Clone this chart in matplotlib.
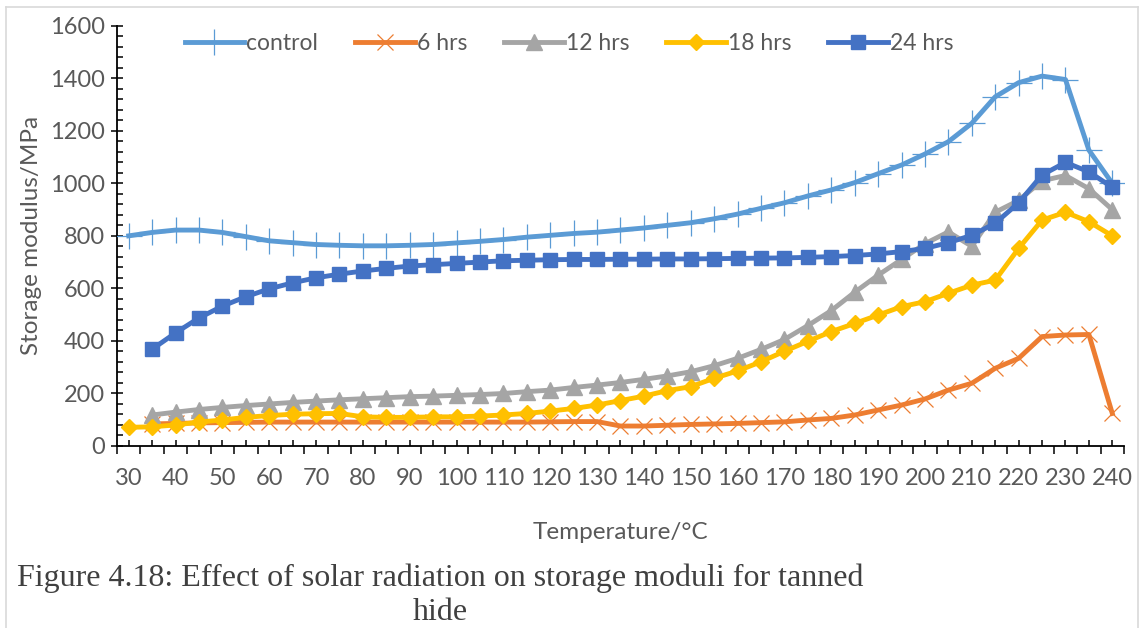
import numpy as np
import matplotlib.pyplot as plt
from matplotlib.ticker import MultipleLocator, FixedLocator
from matplotlib.lines import Line2D

# Temperature categories (°C)
temps = [30, 35, 40, 45, 50, 55, 60, 65, 70, 75, 80, 85, 90, 95, 100, 105, 110,
         115, 120, 125, 130, 135, 140, 145, 150, 155, 160, 165, 170, 175, 180,
         185, 190, 195, 200, 205, 210, 215, 220, 225, 230, 235, 240]

# Storage modulus (MPa)
control = [800, 813, 822, 822, 813, 797, 781, 774, 767, 764, 762, 762, 764, 767,
           773, 779, 786, 795, 802, 809, 814, 822, 830, 840, 850, 865, 883, 905,
           926, 952, 975, 1003, 1037, 1070, 1112, 1159, 1229, 1330, 1384, 1409,
           1396, 1127, 1000]
hrs6 = [83, 85, 87, 88, 89, 90, 90, 90, 90, 90, 90, 90, 90, 90, 90, 90, 90, 91,
        92, 92, 75, 75, 78, 81, 83, 85, 88, 91, 98, 104, 117, 136, 155, 178, 212,
        238, 295, 333, 416, 422, 424, 123]
hrs12 = [117, 128, 138, 146, 153, 159, 165, 170, 175, 179, 183, 187, 189, 192,
         195, 199, 206, 212, 222, 231, 241, 253, 266, 282, 305, 333, 367, 405,
         458, 515, 585, 650, 710, 770, 815, 760, 890, 935, 1010, 1030, 980, 900]
hrs18 = [70, 72, 79, 90, 98, 108, 115, 120, 122, 123, 110, 108, 108, 110, 110,
         113, 117, 123, 132, 142, 155, 172, 189, 210, 225, 257, 285, 320, 360,
         398, 435, 466, 498, 530, 549, 581, 612, 631, 752, 860, 890, 854, 800]
hrs24 = [368, 430, 487, 532, 568, 598, 621, 640, 654, 666, 676, 685, 690, 695,
         700, 705, 707, 709, 710, 710, 711, 711, 712, 712, 713, 714, 715, 716,
         718, 721, 725, 731, 740, 752, 774, 802, 848, 926, 1032, 1080, 1044, 985]

plt.rcParams['font.family'] = ['Lato', 'DejaVu Sans']
grey_txt = '#595959'

W, H = 1147, 628
fig = plt.figure(figsize=(W / 100, H / 100), dpi=100)
ax = fig.add_axes([117 / W, 1 - 445.7 / H, (1124 - 117) / W, (445.7 - 26) / H])

ax.plot(temps, control, color='#5B9BD5', lw=3.5, marker='+', ms=19, mew=0.9,
        label='control', zorder=3)
ax.plot(temps[1:], hrs6, color='#ED7D31', lw=3.5, marker='x', ms=12, mew=0.9,
        label='6 hrs', zorder=4)
ax.plot(temps[1:], hrs12, color='#A5A5A5', lw=3.5, marker='^', ms=11,
        label='12 hrs', zorder=5)
ax.plot(temps, hrs18, color='#FFC000', lw=3.5, marker='D', ms=8,
        label='18 hrs', zorder=6)
ax.plot(temps[1:], hrs24, color='#4472C4', lw=3.5, marker='s', ms=10,
        label='24 hrs', zorder=7)

ax.set_xlim(27.5, 242.5)
ax.set_ylim(0, 1600)

for s in ['top', 'right']:
    ax.spines[s].set_visible(False)
for s in ['left', 'bottom']:
    ax.spines[s].set_linewidth(1.3)
    ax.spines[s].set_color('black')

# y axis ticks
ax.yaxis.set_major_locator(MultipleLocator(200))
ax.yaxis.set_minor_locator(MultipleLocator(40))
ax.tick_params(axis='y', which='major', direction='inout', length=9, width=1.1,
               pad=4, labelsize=17, labelcolor=grey_txt)
ax.tick_params(axis='y', which='minor', direction='in', length=4.5, width=1.1)

# x axis ticks: inside at each point, outside between points
ax.xaxis.set_major_locator(FixedLocator(temps))
ax.set_xticklabels([str(t) if t % 10 == 0 else '' for t in temps])
ax.xaxis.set_minor_locator(MultipleLocator(5, offset=2.5))
ax.tick_params(axis='x', which='major', direction='in', length=4, width=1.1,
               pad=16, labelsize=17, labelcolor=grey_txt)
ax.tick_params(axis='x', which='minor', direction='out', length=5.5, width=1.1)

ax.set_xlabel('Temperature/°C', fontsize=17.5, color=grey_txt, labelpad=24)
ax.set_ylabel('Storage modulus/MPa', fontsize=17.5, color=grey_txt, labelpad=6)

fig.legend(loc='center', bbox_to_anchor=(569 / W, 1 - 44 / H), ncol=5,
           frameon=False, fontsize=16.5, labelcolor=grey_txt, handlelength=2.6,
           handletextpad=0.1, columnspacing=1.6)

# chart area border
for xs, ys in [([6, 1138], [7, 7]), ([6, 6], [7, H]), ([1138, 1138], [7, H])]:
    fig.add_artist(Line2D([x / W for x in xs], [1 - y / H for y in ys],
                          color='#d9d9d9', lw=1.2))

# caption
fig.text(440 / W, 1 - 578 / H,
         'Figure 4.18: Effect of solar radiation on storage moduli for tanned',
         ha='center', va='center', fontsize=23, family='Liberation Serif',
         color='#404040')
fig.text(440 / W, 1 - 612 / H, 'hide', ha='center', va='center', fontsize=23,
         family='Liberation Serif', color='#404040')

fig.savefig('out.png', dpi=100)
